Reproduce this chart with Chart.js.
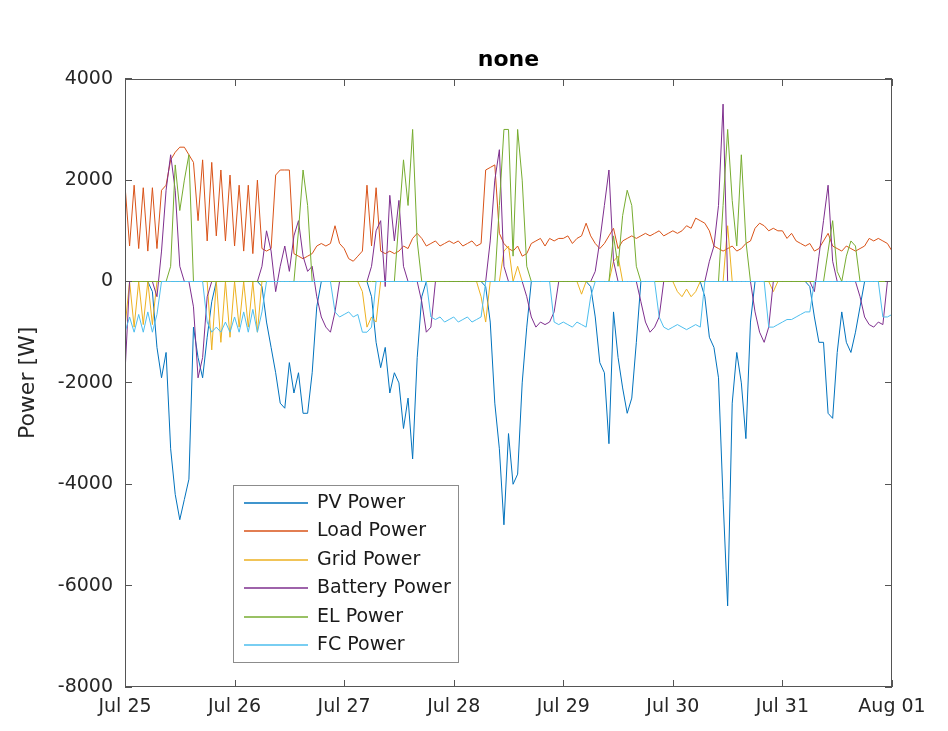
<!DOCTYPE html>
<html>
<head>
<meta charset="utf-8">
<script src="https://cdn.jsdelivr.net/npm/chart.js@4.4.1/dist/chart.umd.min.js"></script>
<style>
  html, body { margin: 0; padding: 0; background: #fff; }
</style>
</head>
<body>
<canvas id="powerChart" width="948" height="731"></canvas>
<script>
// hourly samples, Jul 25 00:00 .. Aug 01 00:00
var dayLabels = ['Jul 25', 'Jul 26', 'Jul 27', 'Jul 28', 'Jul 29', 'Jul 30', 'Jul 31', 'Aug 01'];
var hours = [];
for (var h = 0; h <= 168; h++) hours.push(h);

var pvPower = [
    0, 0, 0, 0, 0, 0, -200, -1300, -1900, -1400, -3300, -4200, -4700, -4300, -3900, -900, -1500, -1900, -1100, -400, 0, 0, 0, 0,
    0, 0, 0, 0, 0, 0, -100, -800, -1300, -1800, -2400, -2500, -1600, -2200, -1800, -2600, -2600, -1800, -500, 0, 0, 0, 0, 0,
    0, 0, 0, 0, 0, 0, -300, -1200, -1700, -1300, -2200, -1800, -2000, -2900, -2300, -3500, -1500, -300, 0, 0, 0, 0, 0, 0,
    0, 0, 0, 0, 0, 0, 0, -100, -800, -2400, -3300, -4800, -3000, -4000, -3800, -2000, -900, 0, 0, 0, 0, 0, 0, 0,
    0, 0, 0, 0, 0, 0, -100, -700, -1600, -1800, -3200, -600, -1500, -2100, -2600, -2300, -1200, 0, 0, 0, 0, 0, 0, 0,
    0, 0, 0, 0, 0, 0, 0, -300, -1100, -1300, -1900, -4300, -6400, -2400, -1400, -2000, -3100, -800, 0, 0, 0, 0, 0, 0,
    0, 0, 0, 0, 0, 0, -100, -700, -1200, -1200, -2600, -2700, -1400, -600, -1200, -1400, -1000, -500, 0, 0, 0, 0, 0, 0,
    0
];
var loadPower = [
    1900, 700, 1900, 650, 1850, 600, 1850, 650, 1800, 1900, 2400, 2550, 2650, 2650, 2500, 2350, 1200, 2400, 800, 2350, 900, 2200, 800, 2100,
    700, 1900, 600, 1900, 550, 2000, 650, 600, 650, 2100, 2200, 2200, 2200, 550, 500, 450, 500, 550, 700, 750, 700, 750, 1100, 750,
    650, 450, 400, 500, 600, 1900, 700, 1850, 600, 550, 600, 550, 600, 700, 650, 850, 950, 850, 700, 750, 800, 700, 750, 800,
    750, 800, 700, 750, 800, 700, 750, 2200, 2250, 2300, 950, 750, 650, 600, 700, 500, 550, 750, 800, 850, 700, 850, 800, 850,
    850, 900, 750, 850, 900, 1150, 900, 750, 650, 750, 900, 1050, 650, 800, 850, 900, 850, 900, 950, 900, 950, 1000, 900, 950,
    1000, 950, 1000, 1100, 1050, 1250, 1200, 1150, 1000, 700, 650, 600, 650, 700, 600, 650, 750, 800, 1050, 1150, 1100, 1000, 1050, 1000,
    1000, 850, 950, 800, 750, 700, 750, 600, 650, 800, 950, 700, 650, 600, 700, 650, 600, 650, 700, 850, 800, 850, 800, 750,
    600
];
var gridPower = [
    -900, 0, -900, 0, -850, 0, -850, 0, 0, 0, 0, 0, 0, 0, 0, 0, 0, 0, 0, -1350, 0, -1200, 0, -1100,
    0, -900, 0, -900, 0, -1000, 0, 0, 0, 0, 0, 0, 0, 0, 0, 0, 0, 0, 0, 0, 0, 0, 0, 0,
    0, 0, 0, 0, -200, -900, -700, -800, 0, 0, 0, 0, 0, 0, 0, 0, 0, 0, 0, 0, 0, 0, 0, 0,
    0, 0, 0, 0, 0, 0, -300, -800, 0, 0, 0, 600, 700, 0, 300, 0, 0, 0, 0, 0, 0, 0, 0, 0,
    0, 0, 0, 0, -250, 0, 0, 0, 0, 0, 0, 400, 500, 0, 0, 0, 0, 0, 0, 0, 0, 0, 0, 0,
    0, -200, -300, -150, -300, -200, 0, 0, 0, 0, 0, 0, 1100, 0, 0, 0, 0, 0, 0, 0, 0, 0, -200, 0,
    0, 0, 0, 0, 0, 0, 0, 0, 0, 0, 0, 0, 0, 0, 0, 0, 0, 0, 0, 0, 0, 0, 0, 0,
    0
];
var batteryPower = [
    -1800, 0, 0, 0, 0, 0, 0, -300, 600, 1800, 2500, 1800, 300, 0, 0, -500, -1900, -1500, -300, 0, 0, 0, 0, 0,
    0, 0, 0, 0, 0, 0, 300, 1000, 600, -200, 300, 700, 200, 900, 1200, 500, 200, 300, -300, -700, -900, -1000, -600, 0,
    0, 0, 0, 0, 0, 0, 300, 1000, 1200, -100, 1700, 800, 1600, 300, 0, 0, 0, -400, -1000, -900, 0, 0, 0, 0,
    0, 0, 0, 0, 0, 0, 0, 0, 800, 2000, 2600, 300, 0, 0, 0, 0, -300, -700, -900, -800, -850, -800, -600, 0,
    0, 0, 0, 0, 0, 0, 0, 200, 800, 1500, 2200, 400, 0, 0, 0, 0, 0, -400, -800, -1000, -900, -700, 0, 0,
    0, 0, 0, 0, 0, 0, 0, 0, 400, 700, 1500, 3500, 0, 0, 0, 0, 0, 0, -600, -1000, -1200, -900, 0, 0,
    0, 0, 0, 0, 0, 0, 0, -200, 500, 1200, 1900, 400, 0, 0, 0, 0, 0, -300, -700, -850, -900, -800, -850, 0,
    0
];
var elPower = [
    0, 0, 0, 0, 0, 0, 0, 0, 0, 0, 300, 2300, 1400, 2000, 2500, 0, 0, 0, 0, 0, 0, 0, 0, 0,
    0, 0, 0, 0, 0, 0, 0, 0, 0, 0, 0, 0, 0, 0, 1000, 2200, 1500, 0, 0, 0, 0, 0, 0, 0,
    0, 0, 0, 0, 0, 0, 0, 0, 0, 0, 0, 0, 1200, 2400, 1500, 3000, 800, 0, 0, 0, 0, 0, 0, 0,
    0, 0, 0, 0, 0, 0, 0, 0, 0, 0, 1500, 3000, 3000, 500, 3000, 2000, 300, 0, 0, 0, 0, 0, 0, 0,
    0, 0, 0, 0, 0, 0, 0, 0, 0, 0, 0, 900, 300, 1300, 1800, 1500, 300, 0, 0, 0, 0, 0, 0, 0,
    0, 0, 0, 0, 0, 0, 0, 0, 0, 0, 0, 1500, 3000, 1600, 700, 2500, 800, 0, 0, 0, 0, 0, 0, 0,
    0, 0, 0, 0, 0, 0, 0, 0, 0, 0, 600, 1200, 200, 0, 500, 800, 700, 0, 0, 0, 0, 0, 0, 0,
    0
];
var fcPower = [
    -1000, -700, -1000, -650, -1000, -600, -1000, -650, 0, 0, 0, 0, 0, 0, 0, 0, 0, 0, -800, -1000, -900, -1000, -800, -1000,
    -700, -1000, -600, -1000, -550, -1000, -600, 0, 0, 0, 0, 0, 0, 0, 0, 0, 0, 0, 0, 0, 0, 0, -600, -700,
    -650, -600, -700, -650, -1000, -1000, -900, 0, 0, 0, 0, 0, 0, 0, 0, 0, 0, 0, 0, -700, -750, -700, -800, -750,
    -700, -800, -750, -700, -800, -750, -700, 0, 0, 0, 0, 0, 0, 0, 0, 0, 0, 0, 0, 0, 0, 0, -800, -850,
    -800, -850, -900, -800, -850, -900, -300, 0, 0, 0, 0, 0, 0, 0, 0, 0, 0, 0, 0, 0, 0, -700, -900, -950,
    -900, -850, -900, -950, -900, -850, -900, 0, 0, 0, 0, 0, 0, 0, 0, 0, 0, 0, 0, 0, 0, -900, -900, -850,
    -800, -750, -750, -700, -650, -600, -600, 0, 0, 0, 0, 0, 0, 0, 0, 0, 0, 0, 0, 0, 0, 0, -700, -700,
    -650
];

var fontFamily = "'DejaVu Sans', sans-serif";
var axisColor = '#555555';

function series(label, values, color, order) {
    return {
        label: label,
        data: values,
        borderColor: color,
        backgroundColor: color,
        borderWidth: 1,
        pointRadius: 0,
        tension: 0,
        fill: false,
        order: order
    };
}

// MATLAB style box, inward ticks and legend inside the axes
var matlabFrame = {
    id: 'matlabFrame',
    afterDatasetsDraw: function (chart) {
        var ctx = chart.ctx;
        var a = chart.chartArea;
        var xs = chart.scales.x, ys = chart.scales.y;
        var L = Math.round(a.left), R = Math.round(a.right), T = Math.round(a.top), B = Math.round(a.bottom);
        ctx.save();
        ctx.strokeStyle = axisColor;
        ctx.lineWidth = 1;
        ctx.strokeRect(L + 0.5, T + 0.5, R - L - 1, B - T - 1);
        ctx.beginPath();
        xs.ticks.forEach(function (t) {
            var px = Math.round(xs.getPixelForValue(t.value)) + 0.5;
            ctx.moveTo(px, B); ctx.lineTo(px, B - 7);
            ctx.moveTo(px, T); ctx.lineTo(px, T + 7);
        });
        ys.ticks.forEach(function (t) {
            var py = Math.floor(ys.getPixelForValue(t.value)) + 0.5;
            ctx.moveTo(L, py); ctx.lineTo(L + 7, py);
            ctx.moveTo(R, py); ctx.lineTo(R - 7, py);
        });
        ctx.stroke();

        // legend
        var bx = L + 108, by = T + 406, bw = 225, bh = 177;
        ctx.fillStyle = '#ffffff';
        ctx.fillRect(bx, by, bw, bh);
        ctx.strokeStyle = '#8c8c8c';
        ctx.strokeRect(bx + 0.5, by + 0.5, bw, bh);
        ctx.font = '19px ' + fontFamily;
        ctx.textBaseline = 'middle';
        ctx.textAlign = 'left';
        chart.data.datasets.forEach(function (ds, i) {
            var ry = Math.round(by + 18 + i * 28.4);
            ctx.strokeStyle = ds.borderColor;
            ctx.lineWidth = 1.4;
            ctx.beginPath();
            ctx.moveTo(bx + 11, ry); ctx.lineTo(bx + 75, ry);
            ctx.stroke();
            ctx.fillStyle = '#1a1a1a';
            ctx.fillText(ds.label, bx + 84, ry);
        });
        ctx.restore();
    }
};

new Chart(document.getElementById('powerChart').getContext('2d'), {
    type: 'line',
    data: {
        labels: hours,
        datasets: [
            series('PV Power', pvPower, '#0072BD', 6),
            series('Load Power', loadPower, '#D95319', 5),
            series('Grid Power', gridPower, '#EDB120', 4),
            series('Battery Power', batteryPower, '#7E2F8E', 3),
            series('EL Power', elPower, '#77AC30', 2),
            series('FC Power', fcPower, '#4DBEEE', 1)
        ]
    },
    options: {
        responsive: false,
        animation: false,
        devicePixelRatio: 1,
        layout: { padding: { left: 0, right: 56, top: 0, bottom: 0 } },
        plugins: {
            legend: { display: false },
            tooltip: { enabled: false },
            title: {
                display: true,
                text: 'none',
                fullSize: false,
                color: '#000000',
                font: { family: fontFamily, size: 22, weight: 'bold' },
                padding: { top: 46.8, bottom: 5.55 }
            }
        },
        scales: {
            x: {
                type: 'linear',
                min: 0,
                max: 168,
                grid: { display: false, drawTicks: false },
                border: { display: false },
                ticks: {
                    stepSize: 24,
                    autoSkip: false,
                    maxRotation: 0,
                    padding: 9,
                    color: '#262626',
                    font: { family: fontFamily, size: 19 },
                    callback: function (v) { return dayLabels[v / 24]; }
                },
                afterFit: function (s) { s.height = 44; }
            },
            y: {
                min: -8000,
                max: 4000,
                grid: { display: false, drawTicks: false },
                border: { display: false },
                ticks: {
                    stepSize: 2000,
                    padding: 12,
                    color: '#262626',
                    font: { family: fontFamily, size: 19 },
                    callback: function (v) { return String(v); }
                },
                title: {
                    display: true,
                    text: 'Power [W]',
                    color: '#262626',
                    font: { family: fontFamily, size: 22 },
                    padding: { top: 15, bottom: 0 }
                },
                afterFit: function (s) { s.width = 125; }
            }
        }
    },
    plugins: [matlabFrame]
});
</script>
</body>
</html>
